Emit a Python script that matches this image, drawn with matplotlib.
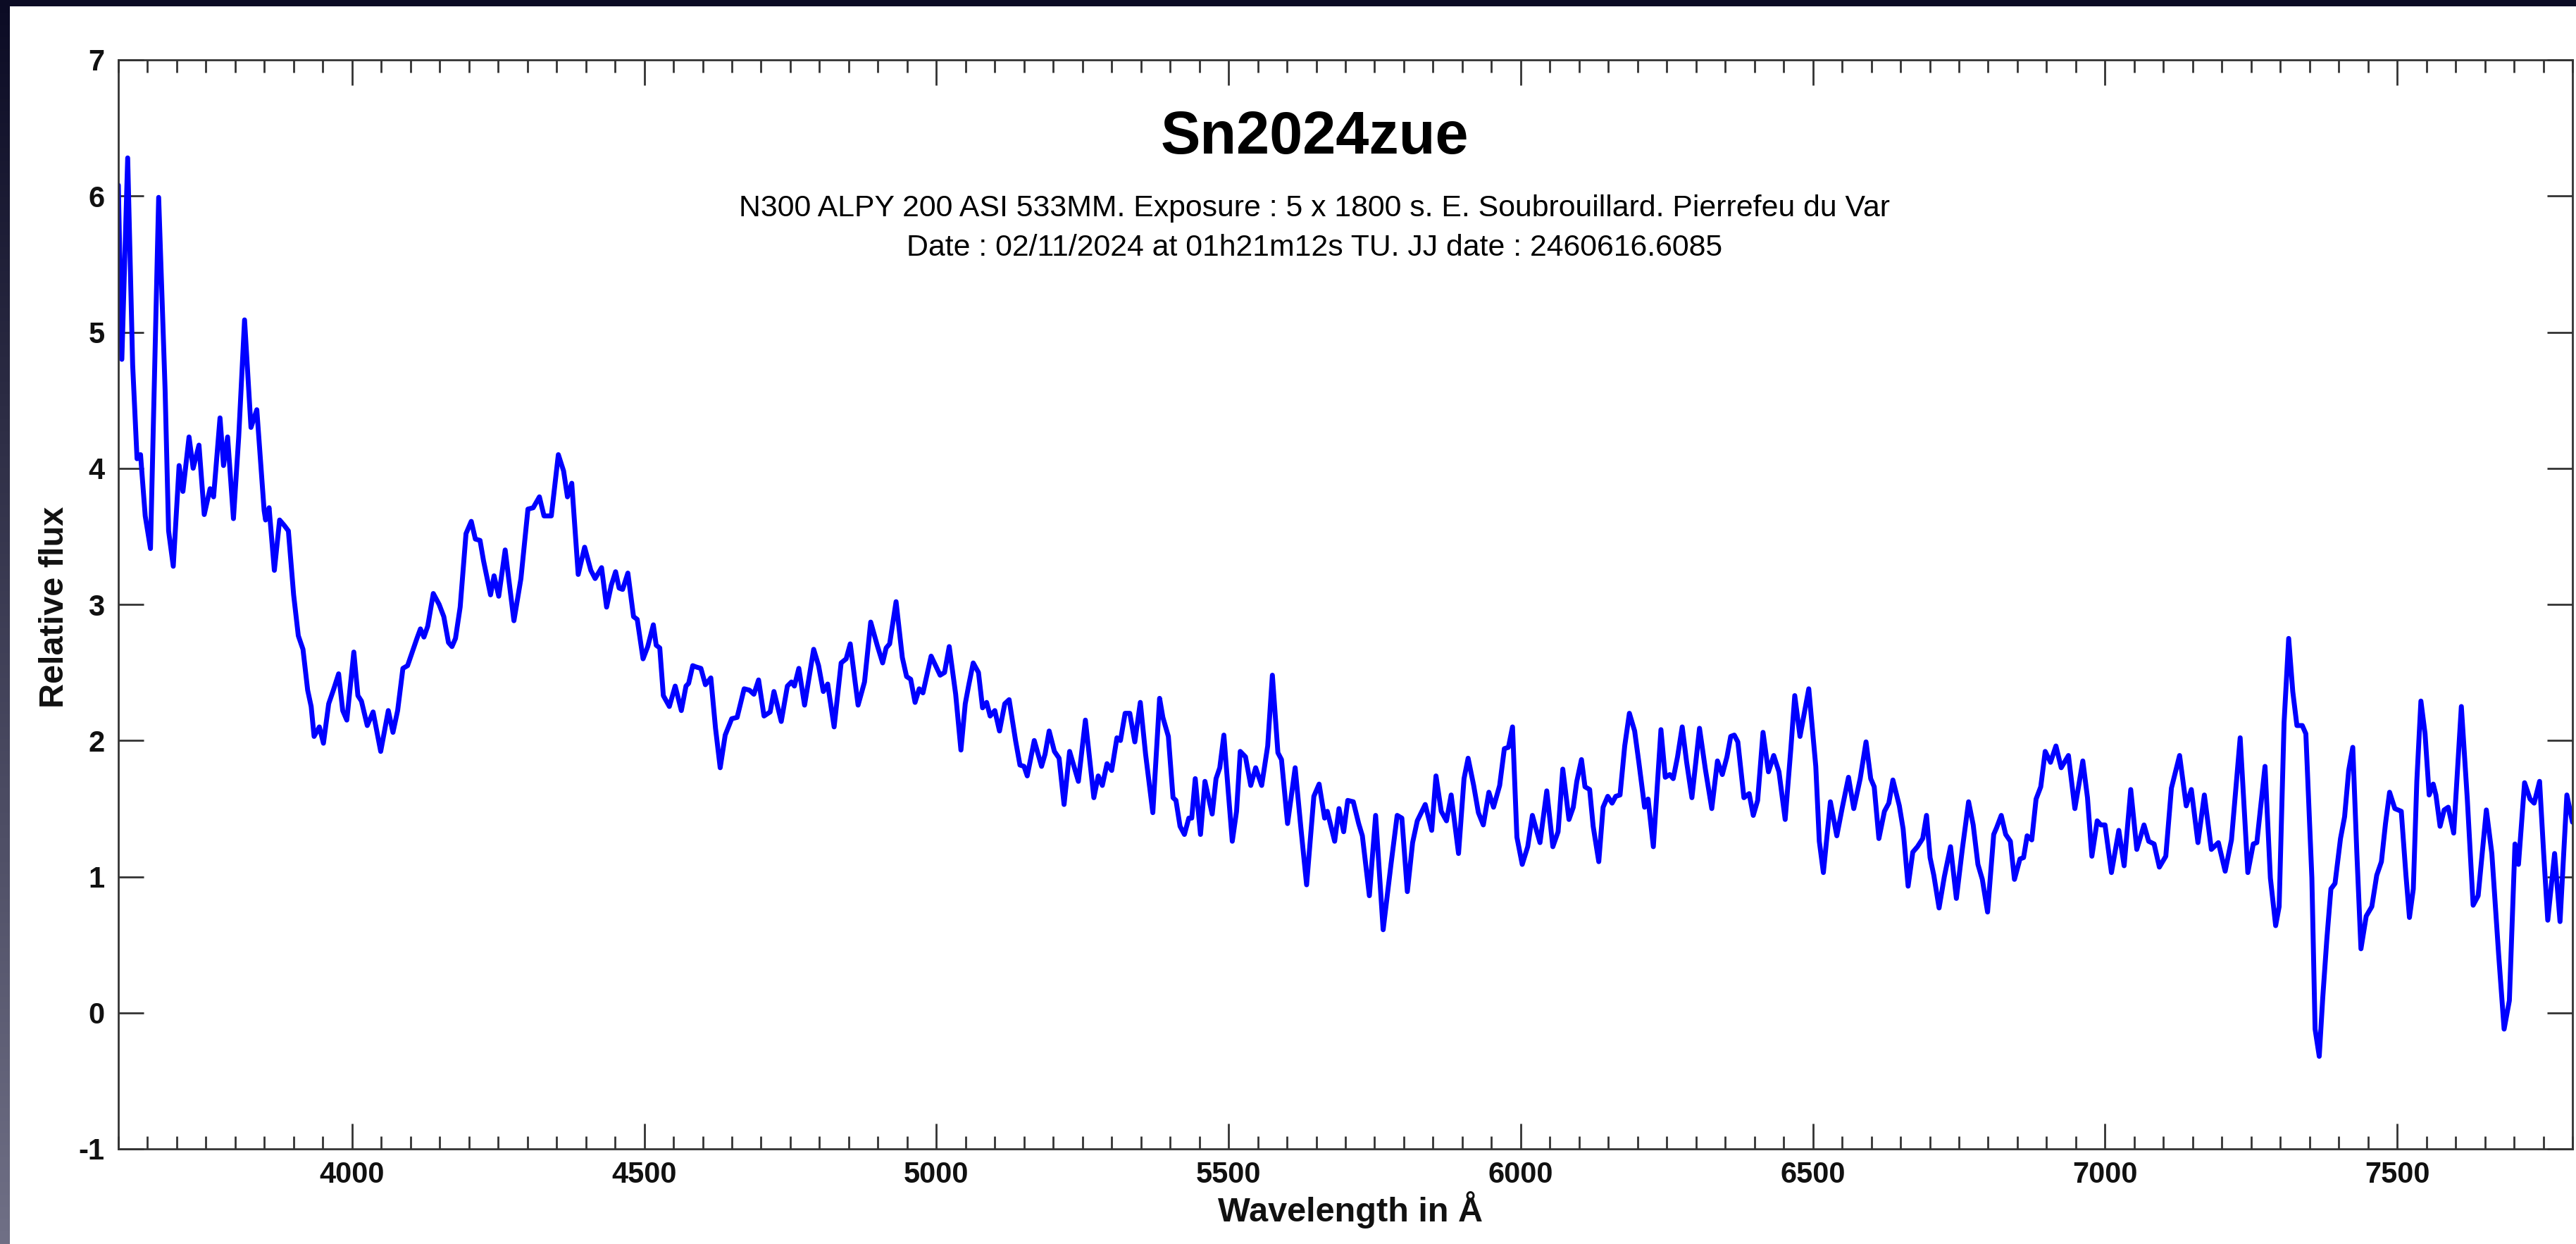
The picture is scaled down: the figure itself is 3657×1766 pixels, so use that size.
import numpy as np
import matplotlib
matplotlib.use("Agg")
import matplotlib.pyplot as plt
from matplotlib.ticker import MultipleLocator, FixedLocator

plt.rcParams['font.family'] = ['Liberation Sans', 'DejaVu Sans']

# ---------------- data ----------------
wavelength = [
    3600, 3606, 3616, 3624.5, 3632, 3638, 3646, 3655, 3669, 3680, 3686, 3694,
    3704, 3710.5, 3721, 3728, 3738, 3747, 3757, 3763, 3774, 3780, 3787, 3797,
    3806, 3816, 3827, 3837, 3849.5, 3852, 3858, 3867, 3876, 3884, 3891, 3900,
    3908, 3916, 3924, 3930, 3935, 3944, 3951, 3960, 3968, 3977, 3984, 3991,
    4003, 4010, 4016, 4026, 4036, 4049, 4062, 4070, 4078, 4087, 4095, 4103,
    4111, 4117, 4123, 4129.5, 4139, 4149, 4157, 4165, 4171, 4177, 4185, 4195,
    4204, 4211, 4219, 4225, 4237, 4243, 4251, 4262, 4277, 4289, 4301, 4310,
    4320.6, 4328.5, 4341, 4353, 4362, 4368.6, 4376, 4387, 4398, 4408.6, 4416,
    4427, 4435.6, 4443.6, 4451, 4457, 4463, 4472, 4481.7, 4488, 4498, 4506,
    4515.6, 4520.5, 4526.6, 4532.7, 4543, 4553, 4563.5, 4571.5, 4576, 4583,
    4589, 4597, 4604.7, 4614, 4622, 4630, 4638.6, 4649.7, 4659, 4671, 4680,
    4687.7, 4695.7, 4705, 4715.5, 4722, 4734.5, 4745, 4752, 4757, 4764.6,
    4774.4, 4790, 4798.4, 4806.5, 4814, 4825, 4837, 4845.6, 4852.6, 4866, 4877,
    4887.6, 4898.7, 4908, 4914, 4920, 4931, 4941.7, 4949, 4956, 4963.5, 4970.6,
    4977, 4991, 5006.4, 5014, 5022, 5033, 5042, 5049.4, 5055.5, 5063, 5072,
    5079, 5086, 5092, 5100, 5108, 5117, 5124.5, 5135.5, 5143, 5150, 5155.5,
    5167.5, 5180, 5186, 5193, 5202, 5210, 5218.5, 5228, 5243, 5255, 5269.5,
    5277, 5284, 5292, 5300, 5309, 5315, 5323, 5331, 5339.6, 5349, 5358, 5370.4,
    5382, 5387.6, 5397, 5405, 5410, 5417, 5424.5, 5432, 5437, 5443, 5452,
    5459.6, 5472, 5478.6, 5485, 5492, 5499.6, 5506.4, 5513.7, 5520, 5529, 5538,
    5546.4, 5556.7, 5567, 5575, 5584.5, 5590.6, 5601, 5614, 5624, 5633.6, 5646,
    5655, 5664.4, 5669, 5681.6, 5689, 5697, 5704, 5713.5, 5722.7, 5729, 5741,
    5751.7, 5764.6, 5778, 5788.6, 5796.6, 5806, 5815, 5823, 5836.6, 5847.7,
    5855, 5864, 5873, 5881, 5893.6, 5903, 5910, 5919.5, 5927.6, 5936, 5945.5,
    5953.5, 5964, 5972, 5979, 5986, 5993.5, 6002.6, 6012, 6020, 6027, 6033,
    6044.6, 6055, 6064, 6072, 6082.6, 6090, 6096, 6104, 6110, 6118, 6124,
    6133.6, 6141, 6149, 6156.4, 6162.6, 6170, 6178, 6186, 6195, 6202.5, 6212,
    6218, 6227, 6240, 6247.4, 6255, 6261, 6268.4, 6276.4, 6284, 6293, 6306,
    6316, 6327, 6336.7, 6345, 6353, 6359.4, 6365.5, 6371.6, 6382, 6391, 6398,
    6405.5, 6414.7, 6424, 6433, 6442, 6452.6, 6462.5, 6469, 6478, 6493, 6505,
    6511, 6518, 6530, 6541, 6550, 6561, 6570, 6581, 6591, 6599, 6605, 6613,
    6622.5, 6630, 6637, 6648, 6654.5, 6663, 6671, 6679, 6688, 6694.5, 6700.6,
    6707, 6716, 6725, 6735.6, 6745.6, 6756, 6766.5, 6774.4, 6782.5, 6790, 6799,
    6809.5, 6814.5, 6822.4, 6830, 6838, 6845, 6854.4, 6860.6, 6866.7, 6874.6,
    6882, 6890, 6897.6, 6906.7, 6916, 6925, 6937.4, 6948.4, 6962, 6970, 6977.5,
    6986.6, 6992.8, 7000, 7011, 7023.6, 7032.7, 7044, 7054.4, 7066.7, 7074.7,
    7084, 7093, 7104, 7113.6, 7127.6, 7139, 7147.7, 7159, 7170, 7182, 7194,
    7205.6, 7216.4, 7231.3, 7244.4, 7253.7, 7259.8, 7273.8, 7283, 7292, 7298,
    7306.4, 7314.3, 7321.3, 7328.4, 7337.6, 7343.7, 7354, 7359.5, 7366.6,
    7372.6, 7379.6, 7386.6, 7393.6, 7403, 7410, 7417, 7424, 7431, 7438, 7447,
    7456.6, 7465, 7473, 7480, 7487, 7496, 7507, 7515, 7521, 7527.6, 7533.6,
    7540.6, 7547.7, 7554.7, 7561.7, 7566.3, 7573.4, 7580.4, 7587.4, 7596.7,
    7609.8, 7620, 7630, 7638.6, 7652.6, 7662, 7673.6, 7683, 7692, 7701.6,
    7707.6, 7718, 7727.4, 7734.4, 7743.7, 7750.7, 7757.7, 7769.4, 7778.7,
    7790.4, 7800,
]

flux = [
    6.08, 4.80, 6.28, 4.76, 4.07, 4.10, 3.65, 3.41, 5.99, 4.58, 3.54, 3.28,
    4.02, 3.83, 4.23, 4.00, 4.17, 3.66, 3.85, 3.79, 4.37, 4.02, 4.23, 3.63,
    4.23, 5.09, 4.30, 4.43, 3.69, 3.62, 3.71, 3.25, 3.62, 3.58, 3.54, 3.07,
    2.77, 2.67, 2.37, 2.25, 2.03, 2.10, 1.98, 2.27, 2.37, 2.49, 2.22, 2.15,
    2.65, 2.33, 2.29, 2.11, 2.21, 1.92, 2.22, 2.06, 2.22, 2.53, 2.55, 2.65,
    2.75, 2.82, 2.76, 2.84, 3.08, 3.00, 2.91, 2.72, 2.69, 2.75, 2.98, 3.52,
    3.61, 3.48, 3.47, 3.32, 3.07, 3.21, 3.06, 3.40, 2.88, 3.19, 3.70, 3.71,
    3.79, 3.65, 3.65, 4.10, 3.98, 3.79, 3.89, 3.22, 3.42, 3.25, 3.19,
    3.27, 2.98, 3.14, 3.24, 3.12, 3.11, 3.23, 2.91, 2.89, 2.60, 2.69,
    2.85, 2.70, 2.68, 2.33, 2.25, 2.40, 2.22, 2.40, 2.42, 2.55,
    2.54, 2.53, 2.41, 2.46, 2.09, 1.80, 2.04, 2.16, 2.17, 2.38, 2.37,
    2.34, 2.445, 2.18, 2.21, 2.36, 2.14, 2.40, 2.43, 2.40, 2.53,
    2.26, 2.67, 2.55, 2.36, 2.415, 2.10, 2.57, 2.60, 2.71, 2.26, 2.43,
    2.87, 2.70, 2.57, 2.68, 2.71, 3.02, 2.61, 2.47, 2.45, 2.28, 2.38,
    2.35, 2.62, 2.48, 2.50, 2.69, 2.34, 1.93, 2.27, 2.41, 2.57, 2.50,
    2.24, 2.28, 2.18, 2.22, 2.07, 2.27, 2.30, 2.00, 1.82, 1.81, 1.74,
    2.00, 1.81, 1.90, 2.07, 1.92, 1.87, 1.53, 1.92, 1.70, 2.15, 1.58,
    1.74, 1.67, 1.83, 1.78, 2.02, 2.00, 2.20, 2.20, 1.99, 2.28, 1.90, 1.47,
    2.31, 2.17, 2.03, 1.58, 1.56, 1.37, 1.31, 1.43, 1.43, 1.72, 1.31,
    1.70, 1.46, 1.72, 1.80, 2.04, 1.62, 1.26, 1.48, 1.92, 1.88, 1.67,
    1.80, 1.67, 1.96, 2.48, 1.91, 1.86, 1.39, 1.80, 1.35, 0.94, 1.59,
    1.68, 1.43, 1.48, 1.26, 1.50, 1.33, 1.56, 1.55, 1.39, 1.30, 0.86,
    1.45, 0.61, 1.09, 1.45, 1.43, 0.89, 1.25, 1.41, 1.53, 1.34,
    1.74, 1.48, 1.41, 1.60, 1.17, 1.72, 1.87, 1.67, 1.47, 1.38, 1.62,
    1.51, 1.67, 1.94, 1.95, 2.10, 1.29, 1.09, 1.22, 1.45, 1.34, 1.25,
    1.63, 1.22, 1.33, 1.79, 1.42, 1.51, 1.70, 1.86, 1.66, 1.64, 1.37,
    1.11, 1.51, 1.59, 1.54, 1.59, 1.60, 1.96, 2.20, 2.07, 1.83, 1.51,
    1.57, 1.22, 2.08, 1.73, 1.75, 1.72, 1.88, 2.10, 1.84, 1.58, 2.09,
    1.79, 1.50, 1.85, 1.75, 1.88, 2.03, 2.04, 1.99, 1.58, 1.61, 1.45,
    1.56, 2.06, 1.77, 1.89, 1.77, 1.42, 1.95, 2.33, 2.03, 2.38, 1.81,
    1.26, 1.03, 1.55, 1.30, 1.50, 1.73, 1.50, 1.72, 1.99, 1.72, 1.66, 1.28,
    1.48, 1.54, 1.71, 1.52, 1.35, 0.93, 1.18, 1.22, 1.28, 1.45, 1.14,
    1.01, 0.77, 1.00, 1.22, 0.84, 1.21, 1.55, 1.38, 1.09, 0.98, 0.74,
    1.31, 1.36, 1.45, 1.31, 1.26, 0.98, 1.13, 1.14, 1.30, 1.27,
    1.57, 1.66, 1.92, 1.84, 1.96, 1.80, 1.89, 1.50, 1.85, 1.58, 1.15,
    1.41, 1.38, 1.38, 1.03, 1.34, 1.08, 1.64, 1.20, 1.38, 1.26,
    1.24, 1.07, 1.15, 1.65, 1.89, 1.52, 1.64, 1.25, 1.60, 1.20, 1.25,
    1.04, 1.27, 2.02, 1.03, 1.24, 1.25, 1.81, 0.99, 0.64, 0.78,
    2.13, 2.75, 2.36, 2.11, 2.11, 2.05, 0.99, -0.12, -0.32,
    0.11, 0.54, 0.91, 0.95, 1.28, 1.44, 1.78, 1.95, 1.17, 0.47, 0.71,
    0.78, 1.01, 1.11, 1.39, 1.62, 1.50, 1.48, 1.01, 0.70, 0.91, 1.70,
    2.29, 2.05, 1.60, 1.68, 1.60, 1.37, 1.49, 1.51, 1.32,
    2.25, 1.57, 0.79, 0.86, 1.49, 1.17, 0.43, -0.12, 0.09, 1.24,
    1.09, 1.69, 1.57, 1.54, 1.70, 1.17, 0.68, 1.17, 0.67,
    1.60, 1.40,
]

x_major_ticks = [4000, 4500, 5000, 5500, 6000, 6500, 7000, 7500]
y_ticks = [-1, 0, 1, 2, 3, 4, 5, 6, 7]

title = "Sn2024zue"
subtitle_1 = "N300 ALPY 200 ASI 533MM. Exposure : 5 x 1800 s. E. Soubrouillard. Pierrefeu du Var"
subtitle_2 = "Date : 02/11/2024 at 01h21m12s TU. JJ date : 2460616.6085"
x_label = "Wavelength in Å"
y_label = "Relative flux"

# ---------------- figure ----------------
W, H = 3657, 1766
fig = plt.figure(figsize=(W / 100, H / 100), dpi=100, facecolor="white")

# dark screenshot frame (top band and left gradient strip)
strip_w = 14
top_h = 9
grad = np.linspace(0, 1, H)[:, None]
top_c = np.array([11, 11, 36]) / 255.0
bot_c = np.array([112, 112, 134]) / 255.0
left = (top_c[None, None, :] * (1 - grad[..., None]) + bot_c[None, None, :] * grad[..., None])
left = np.repeat(left, strip_w, axis=1)
fig.figimage(left, xo=0, yo=0, origin="upper", zorder=5)
top = np.ones((top_h, W, 3)) * top_c[None, None, :]
fig.figimage(top, xo=0, yo=H - top_h, origin="upper", zorder=6)

ax_l, ax_r, ax_t, ax_b = 168, 3652, 85, 1631
ax = fig.add_axes([ax_l / W, 1 - ax_b / H, (ax_r - ax_l) / W, (ax_b - ax_t) / H])
ax.plot(wavelength, flux, color="#0000ff", lw=5.0, solid_joinstyle="round",
        solid_capstyle="round")
ax.set_xlim(3600, 7800)
ax.set_ylim(-1, 7)

ax.xaxis.set_major_locator(FixedLocator(x_major_ticks))
ax.xaxis.set_minor_locator(MultipleLocator(50))
ax.yaxis.set_major_locator(FixedLocator(y_ticks))
ax.set_xticklabels([str(v) for v in x_major_ticks])
ax.set_yticklabels([str(v) for v in y_ticks])

spine_c = "#333333"
for s in ax.spines.values():
    s.set_color(spine_c)
    s.set_linewidth(2.0)
ax.tick_params(axis="both", which="major", direction="in", length=26, width=2.0,
               color=spine_c, top=True, right=True, labelsize=30, labelcolor="#111111")
ax.tick_params(axis="x", which="minor", direction="in", length=13, width=2.0,
               color=spine_c, top=True, bottom=True)
ax.tick_params(axis="x", which="major", pad=12)
ax.tick_params(axis="y", which="major", pad=14)
for lab in ax.get_xticklabels() + ax.get_yticklabels():
    lab.set_fontweight("bold")

fig.text(77 / W, 1 - 862 / H, y_label, rotation=90, ha="center", va="center",
         fontsize=35, fontweight="bold", color="#111111")
fig.text(1917 / W, 1 - 1717 / H, x_label, ha="center", va="center",
         fontsize=35, fontweight="bold", color="#111111")

cx = 1866 / W
fig.text(cx, 1 - 218 / H, title, ha="center", va="baseline", fontsize=61,
         fontweight="bold", color="black")
fig.text(cx, 1 - 307 / H, subtitle_1, ha="center", va="baseline", fontsize=30.8,
         color="black")
fig.text(cx, 1 - 363 / H, subtitle_2, ha="center", va="baseline", fontsize=30.8,
         color="black")

fig.savefig("out.png", dpi=100, facecolor="white")
